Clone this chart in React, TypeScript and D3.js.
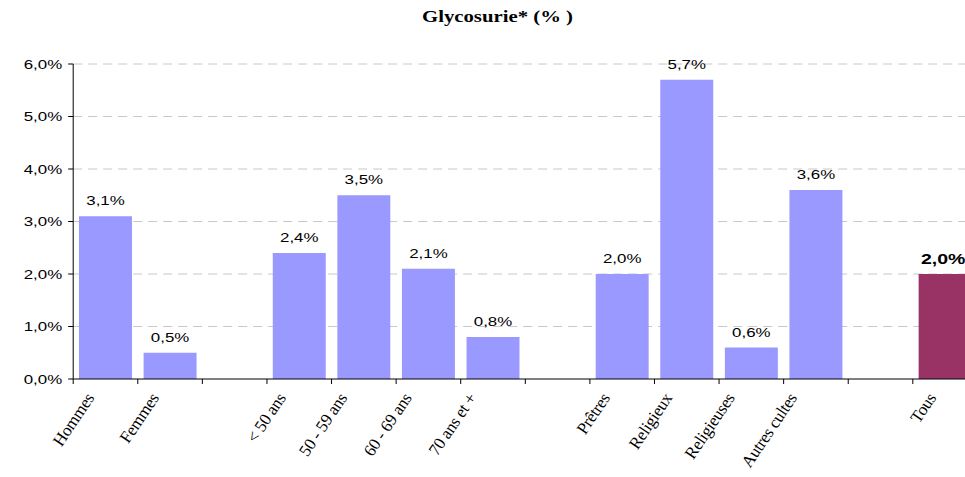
import React from "react";
import * as d3 from "d3";

const categories = ["Hommes", "Femmes", "", "< 50 ans", "50 - 59 ans", "60 - 69 ans", "70 ans et +", " ", "Prêtres", "Religieux", "Religieuses", "Autres cultes", "  ", "Tous"];
const values: (number | null)[] = [3.1, 0.5, null, 2.4, 3.5, 2.1, 0.8, null, 2.0, 5.7, 0.6, 3.6, null, 2.0];
const highlight = ["Tous"];
const yTicks = [0, 1, 2, 3, 4, 5, 6];
const title = "Glycosurie* (% )";

const W = 965, H = 477;
const left = 73.2, right = 977.4, top = 64, bottom = 379;
const SX = 1.3;

export default function App() {
  const x = d3.scaleBand<string>().domain(categories).range([left, right]).paddingInner(0.18).paddingOuter(0.09);
  const y = d3.scaleLinear().domain([0, 6]).range([bottom, top]);
  const fmt = (v: number) => v.toFixed(1).replace(".", ",") + "%";
  const step = x.step();
  const boundaries = d3.range(categories.length + 1).map(i => left + i * step);
  return (
    <svg width={W} height={H} style={{ position: "absolute", left: 0, top: 0, background: "#fff" }}>
      <text x={422} y={22} fontFamily="Liberation Serif" fontWeight="bold" fontSize={16} textLength={151} lengthAdjust="spacingAndGlyphs">{title}</text>
      {yTicks.map(t => (
        <g key={t}>
          {t > 0 && <line x1={left} x2={W} y1={y(t)} y2={y(t)} stroke="#c8c8c8" strokeWidth={1} strokeDasharray="9,6" />}
          <line x1={left - 5} x2={left} y1={y(t)} y2={y(t)} stroke="#000" />
          <text transform={`translate(${left - 11},${y(t)}) scale(${SX},1)`} dy="0.35em" textAnchor="end" fontFamily="Liberation Sans" fontSize={13}>{fmt(t)}</text>
        </g>
      ))}
      {categories.map((c, i) => {
        const v = values[i];
        if (v == null) return null;
        const hl = highlight.includes(c);
        const bx = x(c)!;
        const cx = bx + x.bandwidth() / 2;
        const lx = cx - 4 - 1.1 * c.length;
        return (
          <g key={c}>
            <rect x={bx} y={y(v)} width={x.bandwidth()} height={bottom - y(v)} fill={hl ? "#993366" : "#9999FF"} />
            <text transform={`translate(${hl ? cx - 2 : cx},${y(v) - (hl ? 10 : 11)}) scale(${SX},1)`} textAnchor="middle" fontFamily="Liberation Sans" fontSize={hl ? 15 : 13} fontWeight={hl ? "bold" : "normal"}>{fmt(v)}</text>
            <text transform={`translate(${lx},${bottom + 19}) rotate(-56)`} textAnchor="end" fontFamily="Liberation Serif" fontSize={17} letterSpacing={-0.3}>{c}</text>
          </g>
        );
      })}
      <line x1={left} x2={left} y1={top} y2={bottom} stroke="#000" />
      <line x1={left} x2={W} y1={bottom} y2={bottom} stroke="#000" />
      {boundaries.map((b, i) => (
        <line key={i} x1={b} x2={b} y1={bottom} y2={bottom + 5} stroke="#000" />
      ))}
    </svg>
  );
}
